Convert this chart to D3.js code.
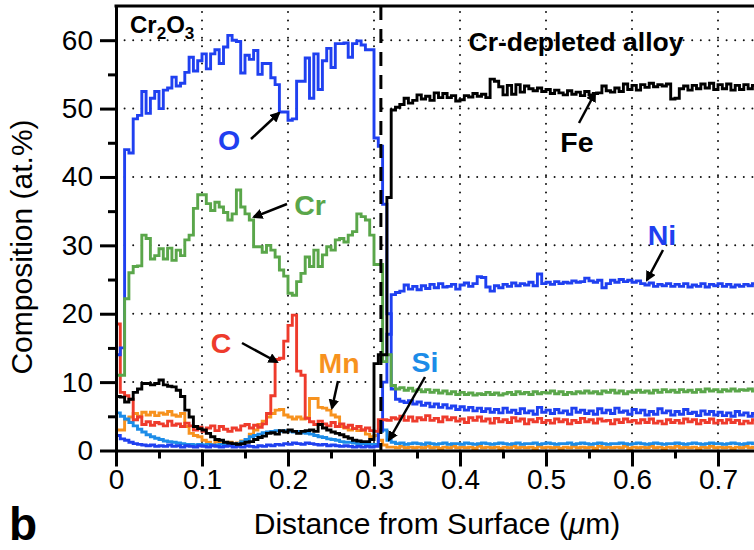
<!DOCTYPE html>
<html>
<head>
<meta charset="utf-8">
<script src="https://cdn.jsdelivr.net/npm/d3@7"></script>
<style>
  html, body { margin: 0; padding: 0; background: #fff; }
  svg { display: block; font-family: "Liberation Sans", Arial, Helvetica, sans-serif; }
</style>
</head>
<body>
<svg id="chart" width="754" height="550"></svg>
<script>
// Composition profiles (at.%) sampled every 0.005 µm from the surface
const depthStep = 0.005;

const O = [
  14, 15, 44, 43.5, 48.5, 49, 52.5, 49.3, 51.5, 52.5,
  50, 52.7, 53, 54.6, 53.3, 53.7, 55.3, 57.5, 55.5, 57,
  58, 55.8, 58, 58.6, 56.6, 59, 60.7, 60, 59.8, 55.2,
  57.8, 57.2, 58.5, 55, 56.6, 56.6, 54.5, 53.5, 49.5, 49.5,
  48.3, 48.5, 54, 54, 57.4, 51.5, 58, 52.8, 57, 58.8,
  56, 59.5, 59.5, 59.6, 57.5, 59.5, 59.9, 59.3, 58.6, 58.6,
  45.7, 44.5, 36, 20, 9.0, 7.5, 7.2, 7.0, 7.3, 6.8,
  7.1, 6.6, 6.9, 6.4, 6.8, 6.3, 6.7, 6.2, 6.5, 6.0,
  6.4, 5.9, 6.3, 5.8, 6.2, 5.7, 6.1, 5.6, 6.0, 5.5,
  6.2, 5.6, 5.9, 5.4, 6.1, 5.5, 5.8, 5.3, 6.3, 5.6,
  5.9, 5.4, 6.0, 5.5, 5.8, 5.3, 6.2, 5.6, 5.9, 5.4,
  5.8, 5.3, 6.1, 5.5, 5.9, 5.4, 6.2, 5.6, 5.8, 5.3,
  6.0, 5.5, 5.9, 5.2, 5.7, 5.3, 6.1, 5.5, 5.8, 5.2,
  5.7, 5.3, 6.0, 5.4, 5.6, 5.1, 5.8, 5.3, 5.7, 5.2,
  5.6, 5.1, 5.5, 5.0, 5.7, 5.2, 5.5, 5.0, 5.4, 6.3
];

const Cr = [
  11, 11, 22.2, 26.0, 26.9, 27.0, 31.5, 31.0, 28.0, 28.5,
  29.5, 28, 29.6, 27.8, 29.3, 28.5, 30.8, 31.5, 35.4, 37.4,
  37.4, 36.1, 35.1, 36.3, 35.6, 34.8, 33.7, 34.6, 38.1, 35.6,
  34.6, 33.7, 29.8, 29.8, 29.0, 30.0, 29.3, 28.3, 26.4, 25.5,
  23.0, 22.7, 24.7, 25.9, 28.3, 26.9, 29.3, 26.9, 28.6, 29.8,
  29.3, 30.8, 31.0, 30.5, 31.5, 32.0, 34.6, 34.2, 33.7, 31.5,
  27.2, 27.2, 13.0, 14.0, 9.5, 9.0, 9.2, 8.8, 9.1, 8.7,
  8.9, 8.6, 8.9, 8.5, 8.8, 8.4, 8.7, 8.3, 8.6, 8.2,
  8.5, 8.2, 8.4, 8.1, 8.3, 8.2, 8.5, 8.2, 8.4, 8.1,
  8.3, 8.5, 8.2, 8.6, 8.3, 8.5, 8.2, 8.6, 8.3, 8.5,
  8.4, 8.7, 8.3, 8.6, 8.2, 8.5, 8.3, 8.6, 8.4, 8.7,
  8.4, 8.6, 8.3, 8.7, 8.5, 8.8, 8.4, 8.7, 8.3, 8.6,
  8.5, 8.8, 8.5, 8.7, 8.4, 8.8, 8.5, 8.9, 8.6, 8.8,
  8.5, 8.9, 8.6, 8.8, 8.5, 8.9, 8.6, 9.0, 8.7, 8.9,
  8.6, 8.9, 8.7, 9.0, 8.7, 8.9, 8.8, 9.0, 8.7, 8.9
];

const C = [
  18.5, 8.5, 8.0, 7.5, 4.5, 4.9, 3.8, 4.2, 3.7, 4.1,
  3.9, 3.6, 4.3, 3.7, 3.9, 3.5, 4.0, 3.6, 3.0, 3.4,
  2.8, 3.3, 3.6, 2.9, 3.5, 3.1, 2.8, 3.3, 3.0, 3.6,
  3.8, 3.3, 3.7, 3.4, 3.9, 5.4, 8.0, 13.3, 13.5, 16.0,
  18.3, 19.8, 11.6, 11.0, 4.7, 4.2, 3.8, 4.3, 3.9, 3.6,
  4.1, 3.5, 3.9, 3.4, 3.7, 3.2, 3.5, 3.0, 3.3, 2.9,
  2.8, 4.5, 4.5, 4.4, 4.8, 4.6, 5.0, 4.4, 4.9, 4.3,
  4.8, 4.5, 5.1, 4.4, 4.7, 4.2, 4.9, 4.5, 4.8, 4.3,
  4.6, 4.1, 4.8, 4.4, 4.9, 4.3, 4.6, 4.0, 4.7, 4.2,
  4.5, 4.1, 4.8, 4.3, 4.6, 3.9, 4.5, 4.2, 4.7, 4.1,
  4.4, 4.0, 4.6, 4.2, 4.5, 3.9, 4.4, 4.1, 4.7, 4.2,
  4.5, 4.0, 4.6, 4.3, 4.4, 3.9, 4.5, 4.1, 4.6, 4.2,
  4.4, 4.0, 4.5, 4.1, 4.6, 4.0, 4.3, 3.9, 4.5, 4.1,
  4.4, 4.0, 4.6, 4.2, 4.5, 3.9, 4.4, 4.1, 4.6, 4.0,
  4.4, 4.0, 4.5, 4.1, 4.4, 3.9, 4.3, 4.0, 4.5, 4.2
];

const Mn = [
  3.0, 3.0, 4.5, 4.9, 5.4, 5.0, 5.6, 5.2, 5.6, 5.1,
  5.5, 5.3, 5.7, 5.2, 5.0, 5.4, 3.5, 2.5, 2.2, 2.0,
  1.5, 1.2, 0.9, 1.3, 1.0, 0.8, 1.2, 0.9, 1.1, 1.4,
  1.3, 2.4, 3.0, 3.8, 4.3, 4.9, 5.4, 5.9, 6.0, 5.2,
  4.9, 4.6, 4.9, 4.6, 4.8, 7.6, 7.6, 6.3, 6.2, 5.9,
  5.2, 4.9, 3.5, 3.3, 3.0, 3.2, 2.9, 3.0, 2.4, 2.0,
  2.2, 1.5, 0.8, 0.5, 0.5, 0.4, 0.6, 0.4, 0.5, 0.4,
  0.5, 0.4, 0.6, 0.4, 0.5, 0.3, 0.5, 0.4, 0.6, 0.4,
  0.5, 0.4, 0.5, 0.3, 0.6, 0.4, 0.5, 0.4, 0.5, 0.3,
  0.5, 0.4, 0.6, 0.4, 0.5, 0.4, 0.5, 0.3, 0.6, 0.4,
  0.5, 0.4, 0.5, 0.3, 0.5, 0.4, 0.6, 0.4, 0.5, 0.4,
  0.5, 0.3, 0.6, 0.4, 0.5, 0.4, 0.5, 0.4, 0.6, 0.3,
  0.5, 0.4, 0.5, 0.4, 0.6, 0.4, 0.5, 0.3, 0.5, 0.4,
  0.6, 0.4, 0.5, 0.4, 0.5, 0.3, 0.5, 0.4, 0.6, 0.4,
  0.5, 0.4, 0.5, 0.3, 0.5, 0.4, 0.6, 0.4, 0.5, 0.4
];

const Fe = [
  7.9, 7.8, 7.1, 7.5, 8.5, 9.0, 9.8, 9.8, 9.6, 9.8,
  10.3, 9.6, 9.4, 9.3, 8.8, 7.9, 5.9, 4.9, 3.5, 3.2,
  3.0, 2.5, 2.0, 1.6, 1.5, 1.2, 1.1, 1.0, 0.9, 1.0,
  1.2, 1.3, 1.6, 1.9, 2.1, 2.5, 2.6, 2.4, 2.9, 2.7,
  3.0, 2.8, 2.5, 2.8, 2.9, 3.0, 2.8, 3.8, 3.3, 3.0,
  2.7, 2.5, 2.3, 2.0, 1.8, 1.5, 1.4, 1.3, 1.3, 1.6,
  12.7, 14.0, 14.0, 37.0, 49.8, 50.2, 50.6, 51.5, 50.8, 51.2,
  52.0, 51.4, 51.8, 51.2, 52.3, 51.6, 52.2, 51.6, 51.9, 51.1,
  51.3, 51.9, 51.7, 52.2, 51.8, 52.1, 51.6, 54.3, 54.0, 53.2,
  52.0, 53.4, 52.1, 53.5, 52.4, 53.3, 52.9, 52.6, 53.0, 52.5,
  52.8, 52.2, 52.7, 52.3, 52.0, 52.6, 52.1, 52.4, 51.9, 52.5,
  52.0, 52.2, 52.3, 53.3, 52.6, 52.4, 53.0, 52.5, 53.6, 52.8,
  53.4, 52.7, 53.5, 53.1, 53.7, 53.2, 53.5, 53.3, 53.6, 51.4,
  51.5, 52.9, 53.3, 52.7, 53.4, 52.9, 53.6, 53.0, 53.7, 52.8,
  53.5, 52.9, 53.6, 52.7, 53.4, 52.8, 53.5, 52.9, 53.4, 53.0
];

const Ni = [
  2.2, 1.7, 1.5, 1.2, 1.0, 0.9, 0.8, 0.7, 0.8, 0.6,
  0.7, 0.6, 0.8, 0.6, 0.7, 0.5, 0.7, 0.6, 0.5, 0.7,
  0.6, 0.5, 0.7, 0.6, 0.5, 0.6, 0.7, 0.5, 0.6, 0.5,
  0.7, 0.6, 0.5, 0.7, 0.6, 0.8, 0.7, 0.9, 0.8, 1.0,
  0.9, 1.1, 1.0, 0.9, 1.1, 1.0, 0.9, 0.8, 0.9, 0.7,
  0.8, 0.7, 0.6, 0.7, 0.6, 0.5, 0.6, 0.5, 0.6, 0.5,
  0.6, 3.0, 10.0, 17.0, 22.8, 23.1, 23.3, 24.2, 23.6, 24.0,
  23.5, 24.1, 23.7, 24.3, 23.8, 24.4, 23.9, 24.0, 24.3, 23.6,
  24.2, 24.5, 24.0, 24.4, 25.4, 25.3, 23.9, 23.3, 24.1, 23.8,
  24.3, 24.0, 24.5, 24.1, 24.4, 24.2, 24.6, 24.1, 25.8, 24.4,
  24.6, 24.3, 24.7, 24.4, 24.6, 24.5, 24.8, 24.6, 24.7, 25.2,
  24.8, 24.6, 24.9, 23.8, 24.4, 24.9, 24.6, 25.0, 24.7, 24.9,
  24.6, 24.8, 24.4, 24.2, 24.5, 24.0, 24.3, 24.1, 24.4, 24.0,
  24.3, 24.0, 24.4, 23.9, 24.2, 24.0, 24.4, 23.9, 24.3, 24.1,
  24.4, 24.0, 24.3, 23.9, 24.2, 24.0, 24.3, 24.1, 24.4, 24.2
];

const Si = [
  5.5, 5.0, 4.6, 4.1, 3.6, 3.1, 2.7, 2.3, 2.0, 1.8,
  1.6, 1.4, 1.3, 1.2, 1.1, 1.0, 0.9, 0.9, 0.8, 0.9,
  0.8, 0.9, 0.8, 0.8, 0.9, 0.8, 0.9, 0.8, 1.0, 1.3,
  1.6, 2.0, 2.2, 2.4, 2.6, 2.7, 2.8, 2.9, 2.8, 2.9,
  2.8, 2.7, 2.8, 2.6, 2.5, 2.4, 2.2, 2.0, 1.9, 1.7,
  1.6, 1.5, 1.3, 1.2, 1.2, 1.1, 1.0, 1.0, 0.9, 0.9,
  0.9, 2.8, 3.0, 1.5, 1.2, 1.0, 1.1, 0.9, 1.0, 1.1,
  1.0, 0.9, 1.1, 1.0, 0.9, 1.0, 1.1, 0.9, 1.0, 1.0,
  0.9, 1.1, 1.0, 0.9, 1.0, 1.1, 1.0, 0.9, 1.0, 1.1,
  1.0, 0.9, 1.0, 1.1, 0.9, 1.0, 1.0, 1.1, 0.9, 1.0,
  1.1, 1.0, 0.9, 1.0, 1.0, 1.1, 0.9, 1.0, 1.1, 1.0,
  0.9, 1.0, 1.1, 1.0, 0.9, 1.0, 1.0, 1.1, 1.0, 0.9,
  1.0, 1.1, 1.0, 0.9, 1.0, 1.1, 1.0, 0.9, 1.0, 1.0,
  1.1, 1.0, 0.9, 1.0, 1.1, 1.0, 0.9, 1.0, 1.1, 1.0,
  1.0, 0.9, 1.0, 1.1, 1.0, 0.9, 1.0, 1.1, 1.0, 1.0
];

const xTicks = [0, 0.1, 0.2, 0.3, 0.4, 0.5, 0.6, 0.7];
const xTickLabels = ["0", "0.1", "0.2", "0.3", "0.4", "0.5", "0.6", "0.7"];
const xMinorTicks = [0.05, 0.15, 0.25, 0.35, 0.45, 0.55, 0.65];
const yTicks = [0, 10, 20, 30, 40, 50, 60];
const yTickLabels = ["0", "10", "20", "30", "40", "50", "60"];
const yMinorTicks = [5, 15, 25, 35, 45, 55];
const interfaceDepth = 0.308;   // oxide / alloy boundary

// ---------- layout ----------
const svg = d3.select("#chart");
const plotLeft = 116, plotTop = 6, plotBottom = 450.5, plotRight = 761;
const x = d3.scaleLinear().domain([0, 0.75]).range([plotLeft, plotRight]);
const y = d3.scaleLinear().domain([0, 65]).range([plotBottom, plotTop]);
const depth = O.map((_, i) => i * depthStep);

const BLUE = "#1f40f0", GREEN = "#5aa64a", RED = "#ee3b2c",
      ORANGE = "#f7921e", BLACK = "#000", LIGHTBLUE = "#1c8ce8";

const defs = svg.append("defs");
defs.append("clipPath").attr("id", "plotClip")
  .append("rect").attr("x", plotLeft).attr("y", plotTop - 2)
  .attr("width", plotRight - plotLeft).attr("height", plotBottom - plotTop + 2);

const marker = defs.append("marker")
  .attr("id", "arrowHead").attr("viewBox", "0 0 10 10")
  .attr("refX", 8).attr("refY", 5)
  .attr("markerWidth", 4.2).attr("markerHeight", 4.2)
  .attr("orient", "auto");
marker.append("path").attr("d", "M0,0 L10,5 L0,10 Z").attr("fill", "#000");

// ---------- dotted grid ----------
const grid = svg.append("g");
xTicks.filter(d => d > 0).forEach(d => {
  grid.append("line")
    .attr("x1", x(d)).attr("x2", x(d)).attr("y1", plotBottom).attr("y2", plotTop)
    .attr("stroke", "#111").attr("stroke-width", 2)
    .attr("stroke-linecap", "round").attr("stroke-dasharray", "0,8.6");
});
yTicks.filter(d => d > 0).forEach(d => {
  grid.append("line")
    .attr("x1", plotLeft).attr("x2", 754).attr("y1", y(d)).attr("y2", y(d))
    .attr("stroke", "#111").attr("stroke-width", 2)
    .attr("stroke-linecap", "round").attr("stroke-dasharray", "0,8.6");
});

// ---------- profiles ----------
const series = [
  { name: "Mn", values: Mn, color: ORANGE },
  { name: "Si", values: Si, color: LIGHTBLUE },
  { name: "Ni", values: Ni, color: BLUE },
  { name: "C",  values: C,  color: RED },
  { name: "O",  values: O,  color: BLUE },
  { name: "Cr", values: Cr, color: GREEN },
  { name: "Fe", values: Fe, color: BLACK }
];

const line = d3.line()
  .x((d, i) => x(depth[i]))
  .y(d => y(d))
  .curve(d3.curveStepAfter);

const lines = svg.append("g").attr("clip-path", "url(#plotClip)");
series.forEach(s => {
  lines.append("path")
    .datum(s.values)
    .attr("d", line)
    .attr("fill", "none")
    .attr("stroke", s.color)
    .attr("stroke-width", 2.9)
    .attr("stroke-linejoin", "miter");
});

// oxide / alloy boundary
svg.append("line")
  .attr("x1", x(interfaceDepth)).attr("x2", x(interfaceDepth))
  .attr("y1", plotTop).attr("y2", plotBottom)
  .attr("stroke", "#000").attr("stroke-width", 3)
  .attr("stroke-dasharray", "14,9");

// ---------- axes ----------
const axisStyle = g => {
  g.selectAll("path.domain").attr("stroke", "#000").attr("stroke-width", 3);
  g.selectAll(".tick line").attr("stroke", "#000").attr("stroke-width", 3);
  g.selectAll(".tick text").attr("fill", "#000")
    .style("font-size", "28px")
    .style("font-family", "'Liberation Sans', Arial, Helvetica, sans-serif");
};

svg.append("g")
  .attr("transform", `translate(0,${plotBottom})`)
  .call(d3.axisBottom(x).tickValues(xMinorTicks).tickSize(8).tickFormat(""))
  .call(g => g.select(".domain").remove())
  .call(axisStyle);
svg.append("g")
  .attr("transform", `translate(0,${plotBottom})`)
  .call(d3.axisBottom(x).tickValues(xTicks)
    .tickFormat((d, i) => xTickLabels[i]).tickSize(16).tickSizeOuter(0).tickPadding(3))
  .call(axisStyle);

svg.append("g")
  .attr("transform", `translate(${plotLeft},0)`)
  .call(d3.axisLeft(y).tickValues(yMinorTicks).tickSize(8).tickFormat(""))
  .call(g => g.select(".domain").remove())
  .call(axisStyle);
svg.append("g")
  .attr("transform", `translate(${plotLeft},0)`)
  .call(d3.axisLeft(y).tickValues(yTicks)
    .tickFormat((d, i) => yTickLabels[i]).tickSize(16).tickSizeOuter(0).tickPadding(7))
  .call(axisStyle);

// top frame
svg.append("line")
  .attr("x1", plotLeft - 1.5).attr("x2", 754).attr("y1", plotTop).attr("y2", plotTop)
  .attr("stroke", "#000").attr("stroke-width", 3);

// axis titles
const xTitle = svg.append("text")
  .attr("x", 437).attr("y", 534)
  .attr("text-anchor", "middle")
  .style("font-size", "30px");
xTitle.append("tspan").text("Distance from Surface (");
xTitle.append("tspan").style("font-style", "italic").text("\u03BC");
xTitle.append("tspan").text("m)");

svg.append("text")
  .attr("transform", "translate(32,247) rotate(-90)")
  .attr("text-anchor", "middle")
  .style("font-size", "30px")
  .text("Composition (at.%)");

svg.append("text")
  .attr("x", 9).attr("y", 540)
  .style("font-size", "46px").style("font-weight", "bold")
  .text("b");

// region labels
const oxide = svg.append("text")
  .attr("x", 130).attr("y", 33)
  .style("font-size", "24px").style("font-weight", "bold");
oxide.append("tspan").text("Cr");
oxide.append("tspan").attr("dy", 6).style("font-size", "17px").text("2");
oxide.append("tspan").attr("dy", -6).text("O");
oxide.append("tspan").attr("dy", 6).style("font-size", "17px").text("3");

svg.append("text")
  .attr("x", 576).attr("y", 51)
  .attr("text-anchor", "middle")
  .style("font-size", "26.5px").style("font-weight", "bold")
  .text("Cr-depleted alloy");

// element labels with arrows
const labels = [
  { text: "O",  color: BLUE,      x: 229, y: 150, from: [251, 139], to: [279, 113] },
  { text: "Cr", color: GREEN,     x: 310, y: 215, from: [287, 204], to: [254, 217] },
  { text: "C",  color: RED,       x: 221, y: 353, from: [242, 343], to: [277, 362] },
  { text: "Mn", color: ORANGE,    x: 339, y: 373, from: [338, 381], to: [332, 408] },
  { text: "Fe", color: BLACK,     x: 577, y: 152, from: [579, 123], to: [595, 93] },
  { text: "Ni", color: BLUE,      x: 662, y: 245, from: [663, 250], to: [647, 280] },
  { text: "Si", color: LIGHTBLUE, x: 425, y: 372, from: [425, 377], to: [389, 440] }
];

labels.forEach(l => {
  svg.append("line")
    .attr("x1", l.from[0]).attr("y1", l.from[1])
    .attr("x2", l.to[0]).attr("y2", l.to[1])
    .attr("stroke", "#000").attr("stroke-width", 2.5)
    .attr("marker-end", "url(#arrowHead)");
  svg.append("text")
    .attr("x", l.x).attr("y", l.y)
    .attr("text-anchor", "middle")
    .attr("fill", l.color)
    .style("font-size", "28.5px").style("font-weight", "bold")
    .text(l.text);
});
</script>
</body>
</html>
